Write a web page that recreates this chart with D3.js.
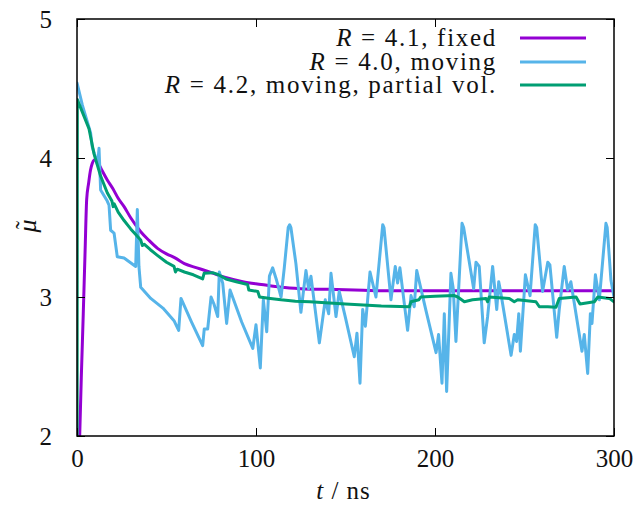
<!DOCTYPE html>
<html>
<head>
<meta charset="utf-8">
<script src="https://cdn.jsdelivr.net/npm/d3@7"></script>
<style>
  html, body { margin: 0; padding: 0; background: #fff; }
</style>
</head>
<body>
<svg id="chart" width="635" height="506"></svg>
<script>
// ---- data (t in ns, mu-tilde) ----
const xTicks = [0, 100, 200, 300];
const yTicks = [2, 3, 4, 5];

const fixedT  = [1.0, 1.5, 2.4, 3.5, 4.5, 5.4, 6.5, 7.5, 8.5, 9.5, 10.5, 12, 14, 17, 20, 23, 26.3, 30, 35.6, 40, 45, 50, 55, 60, 67, 74, 83, 92.6, 103, 114, 125, 140, 155, 170, 200, 250, 300];
const fixedMu = [1.75, 2.0, 2.42, 2.88, 3.32, 3.70, 3.82, 3.91, 3.96, 3.985, 3.99, 3.96, 3.91, 3.84, 3.78, 3.71, 3.65, 3.57, 3.47, 3.41, 3.35, 3.31, 3.28, 3.24, 3.21, 3.18, 3.14, 3.11, 3.09, 3.07, 3.06, 3.055, 3.05, 3.045, 3.045, 3.045, 3.045];

const movingT  = [0, 3, 7.6, 8.5, 10, 11.5, 12.3, 13.2, 16.9, 17.9, 18.8, 20.7, 22.5, 26.3, 32.8, 33.7, 34.6, 35.6, 41.2, 48, 54.2, 56.8, 58.1, 64, 70.2, 71.1, 73, 74.9, 76.5, 78.6, 79.5, 81.4, 83.6, 85.5, 92, 98.2, 100, 102.4, 104.1, 106, 107.5, 109.3, 111.5, 114, 115.8, 118, 118.8, 119.5, 122.3, 125.1, 127.9, 129.4, 130.7, 135.4, 138.7, 140.6, 141.9, 144.7, 146.5, 150, 154.9, 156.4, 158.1, 159.6, 161.1, 163.7, 167, 170.8, 171.5, 175.4, 177.8, 179.1, 180.4, 184.7, 186.6, 188.4, 189.8, 195, 200.6, 202, 203.9, 205.2, 206.5, 208.9, 210.2, 211.7, 215.1, 216, 221.6, 222.9, 224.7, 227.5, 229.4, 232.2, 234.5, 235.6, 236.5, 242.5, 244.3, 245.6, 246.8, 247.7, 250.5, 253.1, 256, 256.8, 260.1, 263, 264.2, 268, 269.4, 272.2, 274.1, 275.9, 282.1, 283.4, 285.3, 286.8, 287.7, 289.6, 291.8, 295.5, 296.2, 298.3, 300];
const movingMu = [4.54, 4.38, 4.18, 4.08, 4.02, 3.95, 4.07, 3.77, 3.69, 3.66, 3.48, 3.46, 3.29, 3.28, 3.22, 3.63, 3.22, 3.07, 2.99, 2.92, 2.83, 2.76, 2.99, 2.82, 2.65, 2.77, 2.77, 3.0, 2.95, 2.86, 3.18, 3.1, 2.81, 3.05, 2.82, 2.63, 2.8, 2.49, 2.98, 2.75, 3.15, 3.21, 3.12, 3.0, 3.21, 3.5, 3.52, 3.5, 3.24, 2.89, 3.19, 3.06, 3.15, 2.67, 2.98, 2.88, 3.17, 2.86, 3.04, 2.85, 2.57, 2.74, 2.38, 2.91, 2.79, 3.18, 3.0, 3.52, 3.5, 2.98, 3.22, 3.1, 3.21, 2.76, 3.01, 2.93, 3.19, 2.9, 2.6, 2.73, 2.38, 2.88, 2.32, 3.17, 3.06, 2.68, 3.53, 3.5, 3.06, 3.25, 3.22, 2.67, 2.86, 3.22, 2.91, 3.11, 3.05, 2.58, 2.73, 2.68, 2.88, 2.61, 3.16, 3.01, 3.52, 3.5, 3.04, 3.25, 3.23, 2.71, 2.91, 3.22, 3.05, 3.11, 2.61, 2.73, 2.45, 2.88, 2.81, 3.16, 2.98, 3.53, 3.5, 3.12, 3.0];

const partialT  = [0, 0.2, 3, 6.7, 9.5, 13.2, 16.9, 19.5, 20.2, 20.8, 23, 26.3, 30, 35.6, 36.5, 37.5, 41, 44.9, 50, 54.2, 55, 56, 60, 65, 70.2, 71, 75.8, 79, 83.2, 89, 95.3, 96, 101, 102, 108, 114, 122, 130, 150, 170, 185.7, 186.6, 191, 192, 200, 210.8, 212.7, 216.4, 221, 228.5, 229.4, 230.3, 241.5, 244.3, 246.2, 256.4, 258.3, 263, 267.6, 269.4, 278.8, 281, 289, 291, 297.4, 300];
const partialMu = [1.0, 4.42, 4.33, 4.21, 4.03, 3.87, 3.75, 3.69, 3.65, 3.67, 3.61, 3.55, 3.49, 3.41, 3.37, 3.38, 3.34, 3.30, 3.25, 3.22, 3.18, 3.2, 3.18, 3.16, 3.13, 3.17, 3.175, 3.16, 3.13, 3.11, 3.09, 3.05, 3.04, 3.0, 2.99, 2.98, 2.97, 2.966, 2.95, 2.935, 2.93, 2.966, 2.98, 3.0, 3.005, 3.01, 3.0, 2.966, 2.98, 2.99, 2.966, 3.0, 2.99, 2.966, 2.98, 2.966, 2.93, 2.93, 2.926, 2.99, 3.0, 2.95, 2.966, 3.0, 2.99, 2.966];

const seriesLabels = ["4.1, fixed", "4.0, moving", "4.2, moving, partial vol."];
const seriesColors = ["#9400d3", "#56b4e9", "#009e73"];

// ---- layout ----
const FONT = "'Liberation Serif', 'Times New Roman', serif";
const svg = d3.select("#chart");
const L = 77, R = 614, T = 19, B = 436;
const x = d3.scaleLinear().domain([0, 300]).range([L, R]);
const y = d3.scaleLinear().domain([2, 5]).range([B, T]);

svg.append("defs").append("clipPath").attr("id", "plotclip")
  .append("rect").attr("x", L).attr("y", T).attr("width", R - L).attr("height", B - T);

const zip = (ts, ms) => ts.map((t, i) => [t, ms[i]]);
const series = [
  { data: zip(fixedT, fixedMu), curve: d3.curveMonotoneX },
  { data: zip(movingT, movingMu), curve: d3.curveLinear },
  { data: zip(partialT, partialMu), curve: d3.curveLinear }
];

const g = svg.append("g").attr("clip-path", "url(#plotclip)");
series.forEach((s, i) => {
  const line = d3.line().x(d => x(d[0])).y(d => y(d[1])).curve(s.curve);
  g.append("path").datum(s.data)
    .attr("d", line)
    .attr("fill", "none")
    .attr("stroke", seriesColors[i])
    .attr("stroke-width", 3)
    .attr("stroke-linejoin", "round")
    .attr("stroke-linecap", "round");
});

// ---- axes (ticks inward, mirrored) ----
const tickLen = 8;
const fmt = d3.format("d");
const axB = svg.append("g").attr("transform", `translate(0,${B})`)
  .call(d3.axisBottom(x).tickValues(xTicks).tickFormat(fmt).tickSizeInner(-tickLen).tickSizeOuter(0).tickPadding(13));
const axT = svg.append("g").attr("transform", `translate(0,${T})`)
  .call(d3.axisTop(x).tickValues(xTicks).tickSizeInner(-tickLen).tickSizeOuter(0).tickFormat(""));
const axL = svg.append("g").attr("transform", `translate(${L},0)`)
  .call(d3.axisLeft(y).tickValues(yTicks).tickFormat(fmt).tickSizeInner(-tickLen).tickSizeOuter(0).tickPadding(25));
const axR = svg.append("g").attr("transform", `translate(${R},0)`)
  .call(d3.axisRight(y).tickValues(yTicks).tickSizeInner(-tickLen).tickSizeOuter(0).tickFormat(""));
[axB, axT, axL, axR].forEach(a => {
  a.select(".domain").remove();
  a.selectAll("line").attr("stroke", "#000").attr("stroke-width", 1);
  a.selectAll("text").style("font-family", FONT).style("font-size", "25px").attr("fill", "#111");
});
axB.selectAll("text").attr("dy", "0.71em");
axL.selectAll("text").attr("dy", "0.33em");

svg.append("rect").attr("x", L).attr("y", T).attr("width", R - L).attr("height", B - T)
  .attr("fill", "none").attr("stroke", "#000").attr("stroke-width", 1.5);

// ---- axis titles ----
const xt = svg.append("text").attr("x", (L + R) / 2 - 2).attr("y", 499).attr("text-anchor", "middle")
  .style("font-family", FONT).style("font-size", "25px").style("letter-spacing", "1px").attr("fill", "#111");
xt.append("tspan").style("font-style", "italic").text("t");
xt.append("tspan").text(" / ns");

const yl = svg.append("g").attr("transform", "translate(36,226) rotate(-90)");
yl.append("text").attr("x", 0).attr("y", 0).attr("text-anchor", "middle")
  .style("font-family", FONT).style("font-size", "26px").style("font-style", "italic").attr("fill", "#111").text("μ");
yl.append("text").attr("x", 1).attr("y", -4).attr("text-anchor", "middle")
  .style("font-family", FONT).style("font-size", "24px").attr("fill", "#111").text("˜");

// ---- legend ----
const legY = [38, 62, 85];
seriesLabels.forEach((lab, i) => {
  const t = svg.append("text").attr("x", 497).attr("y", legY[i] + 8)
    .attr("text-anchor", "end")
    .style("font-family", FONT).style("font-size", "25px").style("letter-spacing", "1.7px").attr("fill", "#111");
  t.append("tspan").style("font-style", "italic").text("R");
  t.append("tspan").text(" = " + lab);
  svg.append("line").attr("x1", 520).attr("x2", 586).attr("y1", legY[i]).attr("y2", legY[i])
    .attr("stroke", seriesColors[i]).attr("stroke-width", 3);
});
</script>
</body>
</html>
